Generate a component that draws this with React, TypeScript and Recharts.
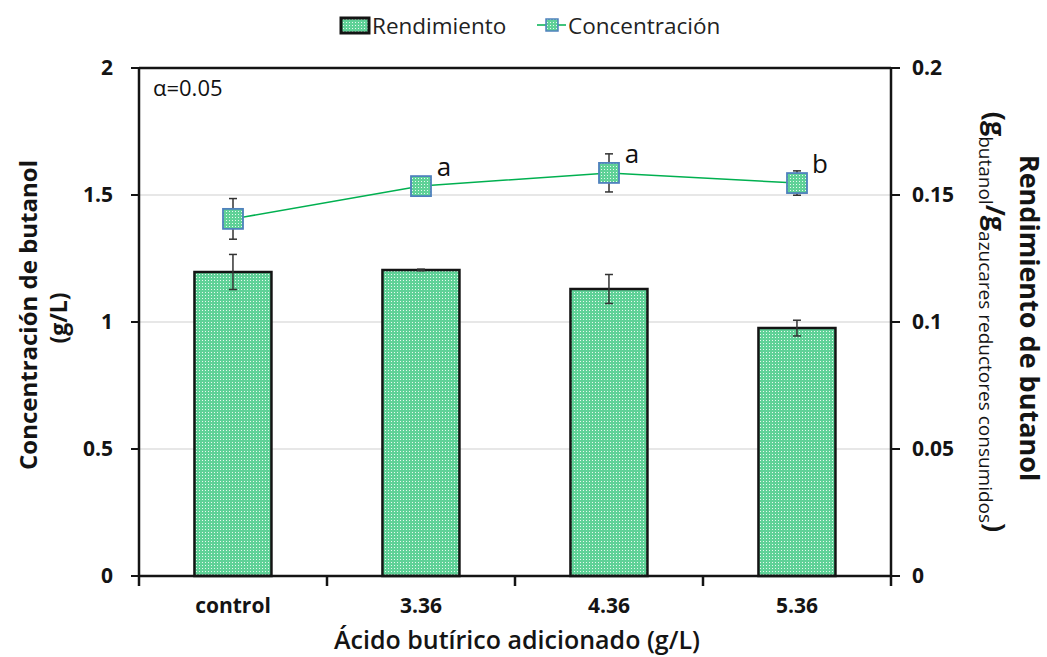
import * as React from "react";
import {
  Bar,
  CartesianGrid,
  ComposedChart,
  ErrorBar,
  LabelList,
  Line,
  ReferenceLine,
  XAxis,
  YAxis,
} from "recharts";

const categories = ["control", "3.36", "4.36", "5.36"];
const rendimiento = [0.1197, 0.1205, 0.113, 0.0976];
const rendimientoErr = [0.0069, 0.0003, 0.0057, 0.0031];
const concentracion = [1.406, 1.535, 1.587, 1.547];
const concentracionErr = [0.08, 0.008, 0.075, 0.048];
const significance = ["", "a", "a", "b"];
const leftTicks = [0, 0.5, 1, 1.5, 2];
const rightTicks = [0, 0.05, 0.1, 0.15, 0.2];

const W = 1047;
const H = 657;
const MARGIN = { top: 68, right: 96, left: 79, bottom: 51 };
const AXIS_W = 60;
const XAXIS_H = 30;
const FONT = "'Open Sans', 'DejaVu Sans', sans-serif";
const INK = "#141414";

const data = categories.map((name, i) => ({
  name,
  rendimiento: rendimiento[i],
  rendimientoErr: rendimientoErr[i],
  concentracion: concentracion[i],
  concentracionErr: concentracionErr[i],
  sig: significance[i],
}));

const plotW = W - MARGIN.left - MARGIN.right - 2 * AXIS_W;
const band = plotW / categories.length;
const axisY = H - MARGIN.bottom - XAXIS_H;

function CategoryTick(props: any) {
  const { x, y, payload, index } = props;
  const left = x - band / 2;
  return (
    <g>
      <line x1={left} x2={left} y1={axisY} y2={axisY + 10} stroke={INK} strokeWidth={2.5} />
      {index === categories.length - 1 && (
        <line x1={left + band} x2={left + band} y1={axisY} y2={axisY + 10} stroke={INK} strokeWidth={2.5} />
      )}
      <text x={x} y={y} dy="0.71em" textAnchor="middle" fontSize={21} fontWeight={700} fill={INK} fontFamily={FONT}>
        {payload.value}
      </text>
    </g>
  );
}

function SquareDot(props: any) {
  const { cx, cy } = props;
  if (cx == null || cy == null) return null;
  return (
    <rect x={cx - 10} y={cy - 10} width={20} height={20} fill="url(#dots)" stroke="#4f81bd" strokeWidth={1.8} />
  );
}

function SigLabel(props: any) {
  const { x, y, value } = props;
  if (!value) return null;
  return (
    <text x={x + 23} y={y - 20} textAnchor="middle" dominantBaseline="central" fontSize={26} fill="#111" fontFamily={FONT}>
      {value}
    </text>
  );
}

export default function App() {
  const tickStyle = { fontSize: 21, fontWeight: 700, fill: INK, fontFamily: FONT };
  return (
    <div style={{ position: "absolute", left: 0, top: 0, width: W, height: H, background: "#fff", fontFamily: FONT }}>
      <svg width={0} height={0} style={{ position: "absolute" }}>
        <defs>
          <pattern id="dots" width={3} height={3} patternUnits="userSpaceOnUse">
            <rect width={3} height={3} fill="#5fd197" />
            <rect x={1} y={1} width={1} height={1} fill="#ffffff" fillOpacity={0.85} />
          </pattern>
        </defs>
      </svg>
      <ComposedChart width={W} height={H} data={data} margin={MARGIN} barCategoryGap="29.5%">
        <CartesianGrid vertical={false} stroke="#cfcfcf" strokeWidth={1} yAxisId="left" />
        <XAxis
          dataKey="name"
          height={XAXIS_H}
          tickLine={false}
          tickSize={0}
          tickMargin={22}
          axisLine={{ stroke: INK, strokeWidth: 2.5 }}
          tick={<CategoryTick />}
          interval={0}
        />
        <YAxis
          yAxisId="left"
          width={AXIS_W}
          domain={[0, 2]}
          ticks={leftTicks}
          tickSize={8}
          tickMargin={18}
          tick={tickStyle}
          axisLine={{ stroke: INK, strokeWidth: 2.5 }}
          tickLine={{ stroke: INK, strokeWidth: 2 }}
        />
        <YAxis
          yAxisId="right"
          orientation="right"
          width={AXIS_W}
          domain={[0, 0.2]}
          ticks={rightTicks}
          tickSize={9}
          tickMargin={12}
          tick={tickStyle}
          axisLine={{ stroke: INK, strokeWidth: 2.5 }}
          tickLine={{ stroke: INK, strokeWidth: 2 }}
        />
        <ReferenceLine yAxisId="left" y={2} stroke={INK} strokeWidth={2.5} ifOverflow="visible" />
        <Bar
          yAxisId="right"
          dataKey="rendimiento"
          fill="url(#dots)"
          stroke={INK}
          strokeWidth={2.5}
          isAnimationActive={false}
        >
          <ErrorBar dataKey="rendimientoErr" width={4} stroke="#333" strokeWidth={1.5} />
        </Bar>
        <Line
          yAxisId="left"
          dataKey="concentracion"
          stroke="#00b050"
          strokeWidth={1.5}
          dot={<SquareDot />}
          activeDot={false}
          isAnimationActive={false}
        >
          <ErrorBar dataKey="concentracionErr" width={4} stroke="#333" strokeWidth={1.5} />
          <LabelList dataKey="sig" content={<SigLabel />} />
        </Line>
      </ComposedChart>
      <svg
        width={W}
        height={H}
        style={{ position: "absolute", left: 0, top: 0, pointerEvents: "none" }}
        fontFamily={FONT}
      >
        {/* legend */}
        <rect x={341} y={18} width={28} height={15} fill="url(#dots)" stroke={INK} strokeWidth={3} />
        <text x={372} y={25} dominantBaseline="central" fontSize={22.5} fill="#222">
          Rendimiento
        </text>
        <line x1={537} x2={566} y1={25} y2={25} stroke="#00b050" strokeWidth={1.5} />
        <rect x={546} y={19} width={12} height={12} fill="url(#dots)" stroke="#4f81bd" strokeWidth={1.5} />
        <text x={568} y={25} dominantBaseline="central" fontSize={22.5} fill="#222">
          Concentración
        </text>

        <text x={153} y={87} dominantBaseline="central" fontSize={22} fill="#111">
          α=0.05
        </text>

        {/* left title */}
        <g transform="translate(27,315) rotate(-90)">
          <text textAnchor="middle" dominantBaseline="central" fontSize={24} fontWeight={700} fill={INK}>
            Concentración de butanol
          </text>
        </g>
        <g transform="translate(58,318) rotate(-90)">
          <text textAnchor="middle" dominantBaseline="central" fontSize={23} fontWeight={700} fill={INK}>
            (g/L)
          </text>
        </g>

        {/* right title */}
        <g transform="translate(1030,318) rotate(90)">
          <text textAnchor="middle" dominantBaseline="central" fontSize={27} fontWeight={700} fill={INK}>
            Rendimiento de butanol
          </text>
        </g>
        <g transform="translate(992,322) rotate(90)">
          <text textAnchor="middle" y={6} fontSize={27} fontWeight={700} fill={INK}>
            (g
            <tspan fontSize={19} fontWeight={400} dy={7}>
              butanol
            </tspan>
            <tspan dy={-7}>/g</tspan>
            <tspan fontSize={19} fontWeight={400} dy={7}>
              azucares reductores consumidos
            </tspan>
            <tspan dy={-7}>)</tspan>
          </text>
        </g>

        {/* x title */}
        <text x={517} y={639} textAnchor="middle" dominantBaseline="central" fontSize={25} fontWeight={600} fill={INK}>
          Ácido butírico adicionado (g/L)
        </text>
      </svg>
    </div>
  );
}
